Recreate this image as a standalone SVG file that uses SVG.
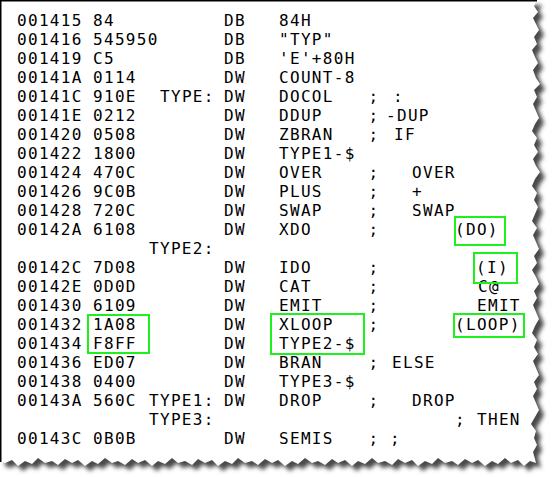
<svg xmlns="http://www.w3.org/2000/svg" xmlns:xlink="http://www.w3.org/1999/xlink" width="553" height="477" viewBox="0 0 553 477">
<style>
text { font-family: "DejaVu Sans Mono", "Liberation Mono", monospace; font-size: 16px; letter-spacing: 1.32px; fill: #000; }
.hl { fill: none; stroke: #1ef01e; stroke-width: 2; }
</style>
<defs>
<filter id="blur" x="-5%" y="-5%" width="110%" height="110%"><feGaussianBlur stdDeviation="2"/></filter>
<path id="paper" d="M0,0 L537,0 L534,6 538,12 533,18 536,24 539,30 534,37 537,44 532,50 535,57 538,63 533,70 536,78 540,84 534,90 537,97 533,104 536,111 539,118 535,124 532,131 537,138 534,145 538,152 533,159 536,166 540,172 535,179 532,186 537,193 534,200 538,207 535,214 532,221 537,228 533,235 536,242 539,249 534,256 537,263 532,270 536,277 539,284 534,291 537,298 533,305 536,312 539,319 535,326 532,333 537,340 534,347 538,354 533,361 536,368 539,375 534,382 537,389 533,396 536,403 539,410 535,417 531,424 536,431 534,438 537,445 533,452 535,459 536,463 L530,461 524,466 518,460 511,463 505,458 498,464 492,461 485,466 478,460 472,463 465,459 458,465 452,461 445,463 438,458 432,464 425,461 418,466 412,460 405,463 398,459 392,465 385,461 378,463 372,458 365,464 358,461 352,466 345,460 338,463 332,459 325,465 318,461 312,463 305,458 298,464 292,461 285,466 278,460 272,463 265,459 258,465 252,461 245,463 238,458 232,464 225,461 218,466 212,460 205,463 198,459 192,465 185,461 178,463 172,458 165,464 158,461 152,466 145,460 138,463 132,459 125,465 118,461 112,463 105,458 98,464 92,461 85,466 78,460 72,463 65,459 58,465 52,461 45,463 38,458 32,464 25,461 18,466 12,460 5,463 0,461 Z"/>
</defs>
<rect width="553" height="477" fill="#fff"/>
<use xlink:href="#paper" fill="#4a4a4a" filter="url(#blur)" transform="translate(5,5)"/>
<use xlink:href="#paper" fill="#fff"/>
<path d="M0.75,462 L0.75,0.75 L537,0.75" fill="none" stroke="#000" stroke-width="1.5"/>

<g id="listing">
<g id="r1"><text x="17" y="26">001415</text><text x="93" y="26">84</text><text x="224" y="26">DB</text><text x="279" y="26">84H</text></g>
<g id="r2"><text x="17" y="45">001416</text><text x="93" y="45">545950</text><text x="224" y="45">DB</text><text x="279" y="45">"TYP"</text></g>
<g id="r3"><text x="17" y="64">001419</text><text x="93" y="64">C5</text><text x="224" y="64">DB</text><text x="279" y="64">'E'+80H</text></g>
<g id="r4"><text x="17" y="83">00141A</text><text x="93" y="83">0114</text><text x="224" y="83">DW</text><text x="279" y="83">COUNT-8</text></g>
<g id="r5"><text x="17" y="102">00141C</text><text x="93" y="102">910E</text><text x="160" y="102">TYPE:</text><text x="224" y="102">DW</text><text x="279" y="102">DOCOL</text><text x="368.5" y="102">;</text><text x="393" y="102">:</text></g>
<g id="r6"><text x="17" y="121">00141E</text><text x="93" y="121">0212</text><text x="224" y="121">DW</text><text x="279" y="121">DDUP</text><text x="368.5" y="121">;</text><text x="386" y="121">-DUP</text></g>
<g id="r7"><text x="17" y="140">001420</text><text x="93" y="140">0508</text><text x="224" y="140">DW</text><text x="279" y="140">ZBRAN</text><text x="368.5" y="140">;</text><text x="394" y="140">IF</text></g>
<g id="r8"><text x="17" y="159">001422</text><text x="93" y="159">1800</text><text x="224" y="159">DW</text><text x="279" y="159">TYPE1-$</text></g>
<g id="r9"><text x="17" y="178">001424</text><text x="93" y="178">470C</text><text x="224" y="178">DW</text><text x="279" y="178">OVER</text><text x="368.5" y="178">;</text><text x="412" y="178">OVER</text></g>
<g id="r10"><text x="17" y="197">001426</text><text x="93" y="197">9C0B</text><text x="224" y="197">DW</text><text x="279" y="197">PLUS</text><text x="368.5" y="197">;</text><text x="412" y="197">+</text></g>
<g id="r11"><text x="17" y="216">001428</text><text x="93" y="216">720C</text><text x="224" y="216">DW</text><text x="279" y="216">SWAP</text><text x="368.5" y="216">;</text><text x="412" y="216">SWAP</text></g>
<g id="r12"><text x="17" y="235">00142A</text><text x="93" y="235">6108</text><text x="224" y="235">DW</text><text x="279" y="235">XDO</text><text x="368.5" y="235">;</text><text x="455" y="235">(DO)</text></g>
<g id="r13"><text x="149" y="254">TYPE2:</text></g>
<g id="r14"><text x="17" y="273">00142C</text><text x="93" y="273">7D08</text><text x="224" y="273">DW</text><text x="279" y="273">IDO</text><text x="368.5" y="273">;</text><text x="476" y="273">(I)</text></g>
<g id="r15"><text x="17" y="292">00142E</text><text x="93" y="292">0D0D</text><text x="224" y="292">DW</text><text x="279" y="292">CAT</text><text x="368.5" y="292">;</text><text x="478" y="292">C@</text></g>
<g id="r16"><text x="17" y="311">001430</text><text x="93" y="311">6109</text><text x="224" y="311">DW</text><text x="279" y="311">EMIT</text><text x="368.5" y="311">;</text><text x="477" y="311">EMIT</text></g>
<g id="r17"><text x="17" y="330">001432</text><text x="93" y="330">1A08</text><text x="224" y="330">DW</text><text x="279" y="330">XLOOP</text><text x="368.5" y="330">;</text><text x="455" y="330">(LOOP)</text></g>
<g id="r18"><text x="17" y="349">001434</text><text x="93" y="349">F8FF</text><text x="224" y="349">DW</text><text x="279" y="349">TYPE2-$</text></g>
<g id="r19"><text x="17" y="368">001436</text><text x="93" y="368">ED07</text><text x="224" y="368">DW</text><text x="279" y="368">BRAN</text><text x="368.5" y="368">;</text><text x="392" y="368">ELSE</text></g>
<g id="r20"><text x="17" y="387">001438</text><text x="93" y="387">0400</text><text x="224" y="387">DW</text><text x="279" y="387">TYPE3-$</text></g>
<g id="r21"><text x="17" y="406">00143A</text><text x="93" y="406">560C</text><text x="149" y="406">TYPE1:</text><text x="224" y="406">DW</text><text x="279" y="406">DROP</text><text x="368.5" y="406">;</text><text x="412" y="406">DROP</text></g>
<g id="r22"><text x="149" y="425">TYPE3:</text><text x="455" y="425">;</text><text x="477" y="425">THEN</text></g>
<g id="r23"><text x="17" y="444">00143C</text><text x="93" y="444">0B0B</text><text x="224" y="444">DW</text><text x="279" y="444">SEMIS</text><text x="368.5" y="444">;</text><text x="390" y="444">;</text></g>
</g>

<g id="highlights">
<rect id="hl-do" class="hl" x="455" y="217" width="50" height="28"/>
<rect id="hl-i" class="hl" x="474" y="253" width="43" height="30"/>
<rect id="hl-loop" class="hl" x="454" y="314" width="70" height="23"/>
<rect id="hl-xloop" class="hl" x="271" y="314" width="93" height="40"/>
<rect id="hl-hex" class="hl" x="88" y="315" width="61" height="38"/>
</g>
</svg>
